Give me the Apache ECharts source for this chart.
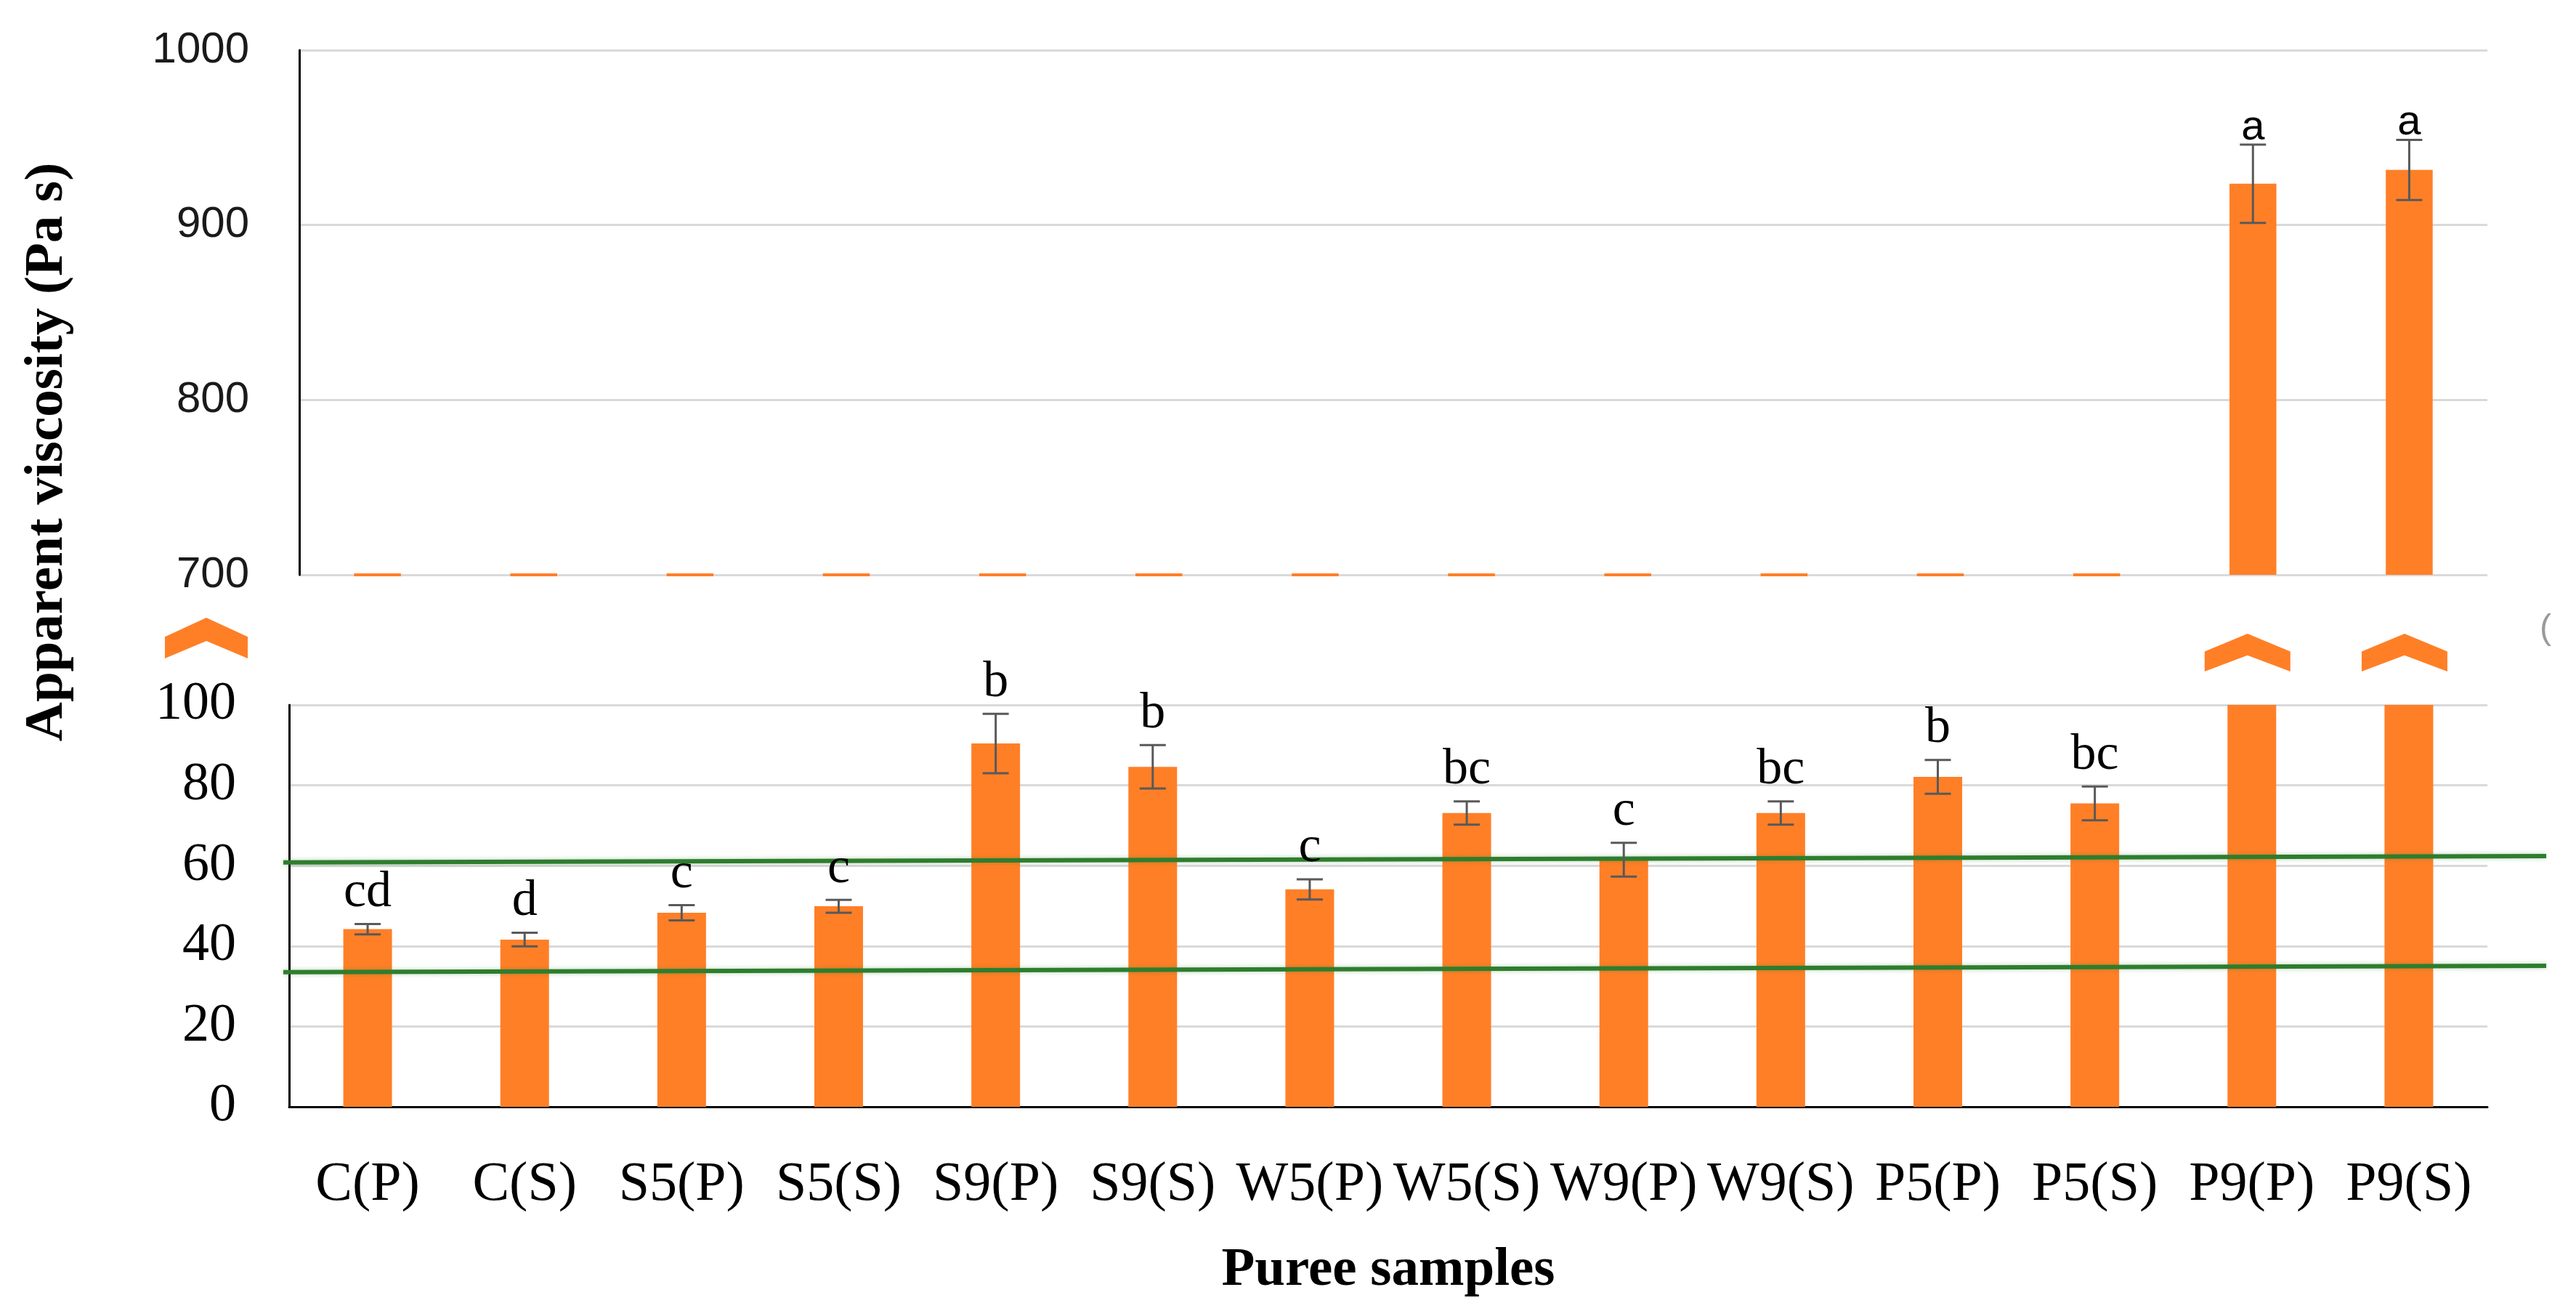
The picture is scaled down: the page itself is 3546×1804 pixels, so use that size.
<!DOCTYPE html>
<html>
<head>
<meta charset="utf-8">
<script src="https://cdn.jsdelivr.net/npm/echarts@6/dist/echarts.min.js"></script>
<style>
  html, body { margin: 0; padding: 0; background: #ffffff; }
  #chart { width: 3546px; height: 1804px; }
</style>
</head>
<body>
<div id="chart"></div>
<script>
// ---------------- data ----------------
const categories = ['C(P)', 'C(S)', 'S5(P)', 'S5(S)', 'S9(P)', 'S9(S)', 'W5(P)', 'W5(S)', 'W9(P)', 'W9(S)', 'P5(P)', 'P5(S)', 'P9(P)', 'P9(S)'];
const viscosity = [44.2, 41.6, 48.3, 49.9, 90.4, 84.6, 54.1, 73.1, 61.5, 73.1, 82.1, 75.5, 923.6, 931.5];
const stdDev = [1.3, 1.7, 1.9, 1.6, 7.4, 5.4, 2.5, 2.9, 4.2, 2.9, 4.2, 4.2, 22.4, 17.2];
const letters = ['cd', 'd', 'c', 'c', 'b', 'b', 'c', 'bc', 'c', 'bc', 'b', 'bc', 'a', 'a'];
const upperTicks = [700, 800, 900, 1000];
const lowerTicks = [0, 20, 40, 60, 80, 100];
const greenLineUpper = [60.8, 62.4];   // start / end value of upper green reference line
const greenLineLower = [33.5, 35.1];   // start / end value of lower green reference line

// ---------------- styles ----------------
const ORANGE = '#FF7F27';
const GRID_GRAY = '#D9D9D9';
const ERR = '#595959';
const GREEN = '#2E7D2E';
const SERIF = "'Liberation Serif', 'DejaVu Serif', serif";
const SANS = "'Liberation Sans', 'DejaVu Sans', sans-serif";
const UPPER_BAR = 0.30, LOWER_BAR = 0.31;

const upperMin = upperTicks[0], upperMax = upperTicks[upperTicks.length - 1];
const lowerMin = lowerTicks[0], lowerMax = lowerTicks[lowerTicks.length - 1];

const chart = echarts.init(document.getElementById('chart'), null, { renderer: 'canvas' });

function errorRenderer(lo, hi, font, gap, barFrac) {
  return function (params, api) {
    const idx = params.dataIndex;
    const mean = api.value(1);
    const sd = api.value(2);
    if (mean > hi) return null;
    if (mean < lo) {
      // value below the axis break: Excel shows a flat stub on the baseline
      const base = api.coord([api.value(0), lo]);
      const bw = api.size([1, 0])[0] * barFrac;
      return { type: 'rect', shape: { x: base[0] - bw / 2, y: base[1] - 2, width: bw, height: 4 }, style: { fill: ORANGE } };
    }
    const top = api.coord([api.value(0), mean + sd]);
    const bot = api.coord([api.value(0), mean - sd]);
    const x = top[0];
    const half = 18;
    const ls = { stroke: ERR, lineWidth: 3 };
    return {
      type: 'group',
      children: [
        { type: 'line', shape: { x1: x, y1: top[1], x2: x, y2: bot[1] }, style: ls },
        { type: 'line', shape: { x1: x - half, y1: top[1], x2: x + half, y2: top[1] }, style: ls },
        { type: 'line', shape: { x1: x - half, y1: bot[1], x2: x + half, y2: bot[1] }, style: ls },
        { type: 'text', style: { text: letters[idx], x: x, y: top[1] - gap, align: 'center', verticalAlign: 'bottom', font: font, fill: '#000' } }
      ]
    };
  };
}

const errData = viscosity.map((v, i) => [i, v, stdDev[i]]);
const greenStyle = { color: GREEN, width: 6, shadowColor: 'rgba(46,125,46,0.35)', shadowBlur: 6 };

const option = {
  backgroundColor: '#ffffff',
  animation: false,
  grid: [
    { left: 412, right: 122, top: 69, bottom: 1013 },
    { left: 398, right: 122, top: 970, bottom: 281 },
    { left: 390, right: 41, top: 970, bottom: 281 }
  ],
  xAxis: [
    { type: 'category', gridIndex: 0, data: categories, axisLine: { show: false }, axisTick: { show: false }, axisLabel: { show: false } },
    {
      type: 'category', gridIndex: 1, data: categories,
      axisLine: { show: true, lineStyle: { color: '#000', width: 3 } },
      axisTick: { show: false },
      axisLabel: { fontFamily: SERIF, fontSize: 76, color: '#000', margin: 70, interval: 0 },
      name: 'Puree samples', nameLocation: 'middle', nameGap: 188,
      nameTextStyle: { fontFamily: SERIF, fontSize: 75, fontWeight: 'bold', color: '#000' }
    },
    { type: 'value', gridIndex: 2, min: 0, max: 1, show: false }
  ],
  yAxis: [
    {
      type: 'value', gridIndex: 0, min: upperMin, max: upperMax, interval: 100,
      axisLine: { show: true, lineStyle: { color: '#000', width: 3 } },
      axisTick: { show: false },
      axisLabel: { fontFamily: SANS, fontSize: 60, color: '#1a1a1a', margin: 69, formatter: v => String(v) },
      splitLine: { show: true, lineStyle: { color: GRID_GRAY, width: 3 } }
    },
    {
      type: 'value', gridIndex: 1, min: lowerMin, max: lowerMax, interval: 20,
      axisLine: { show: true, lineStyle: { color: '#000', width: 3 } },
      axisTick: { show: false },
      axisLabel: { fontFamily: SERIF, fontSize: 74, color: '#000', margin: 73, formatter: v => String(v) },
      splitLine: { show: true, lineStyle: { color: GRID_GRAY, width: 3 } }
    },
    { type: 'value', gridIndex: 2, min: lowerMin, max: lowerMax, show: false }
  ],
  series: [
    {
      type: 'bar', xAxisIndex: 0, yAxisIndex: 0, barWidth: (UPPER_BAR * 100) + '%', clip: true,
      itemStyle: { color: ORANGE },
      data: viscosity.map(v => (v >= upperMin ? v : null)), z: 2
    },
    {
      type: 'bar', xAxisIndex: 1, yAxisIndex: 1, barWidth: (LOWER_BAR * 100) + '%', clip: true,
      itemStyle: { color: ORANGE },
      data: viscosity, z: 2
    },
    {
      type: 'custom', xAxisIndex: 0, yAxisIndex: 0, data: errData,
      encode: { x: 0, y: 1 }, renderItem: errorRenderer(upperMin, upperMax, '58px ' + SANS, -6, UPPER_BAR), z: 5
    },
    {
      type: 'custom', xAxisIndex: 1, yAxisIndex: 1, data: errData,
      encode: { x: 0, y: 1 }, renderItem: errorRenderer(lowerMin, lowerMax, '70px ' + SERIF, 8, LOWER_BAR), z: 5
    },
    {
      type: 'line', xAxisIndex: 2, yAxisIndex: 2, symbol: 'none', silent: true,
      lineStyle: greenStyle, data: [[0, greenLineUpper[0]], [1, greenLineUpper[1]]], z: 4
    },
    {
      type: 'line', xAxisIndex: 2, yAxisIndex: 2, symbol: 'none', silent: true,
      lineStyle: greenStyle, data: [[0, greenLineLower[0]], [1, greenLineLower[1]]], z: 4
    }
  ]
};

chart.setOption(option);

// ---------- decorations: axis-break chevrons and y axis title ----------
function chevron(cx, topY, w, h) {
  const hw = w / 2;
  return {
    type: 'polygon',
    shape: { points: [[cx - hw, topY + h * 0.47], [cx, topY], [cx + hw, topY + h * 0.47], [cx + hw, topY + h], [cx, topY + h * 0.57], [cx - hw, topY + h]] },
    style: { fill: ORANGE }
  };
}

const graphics = [];
const origin = chart.convertToPixel({ xAxisIndex: 1, yAxisIndex: 1 }, [categories[0], lowerMax]);
const lowerLeft = chart.getModel().getComponent('grid', 1).coordinateSystem.getRect().x;
graphics.push(chevron(lowerLeft - 114, origin[1] - 120, 114, 56));
viscosity.forEach((v, i) => {
  if (v > lowerMax) {
    const p = chart.convertToPixel({ xAxisIndex: 1, yAxisIndex: 1 }, [categories[i], lowerMax]);
    graphics.push(chevron(p[0] - 6, p[1] - 98, 118, 52));
  }
});
graphics.push({
  type: 'text', x: 66, y: 622, rotation: Math.PI / 2,
  style: { text: 'Apparent viscosity (Pa s)', font: 'bold 75px ' + SERIF, fill: '#000', align: 'center', verticalAlign: 'middle' }
});
graphics.push({
  type: 'text', x: 3496, y: 866,
  style: { text: '(', font: '48px ' + SANS, fill: '#9a9a9a', align: 'left', verticalAlign: 'middle' }
});
chart.setOption({ graphic: graphics });
</script>
</body>
</html>
